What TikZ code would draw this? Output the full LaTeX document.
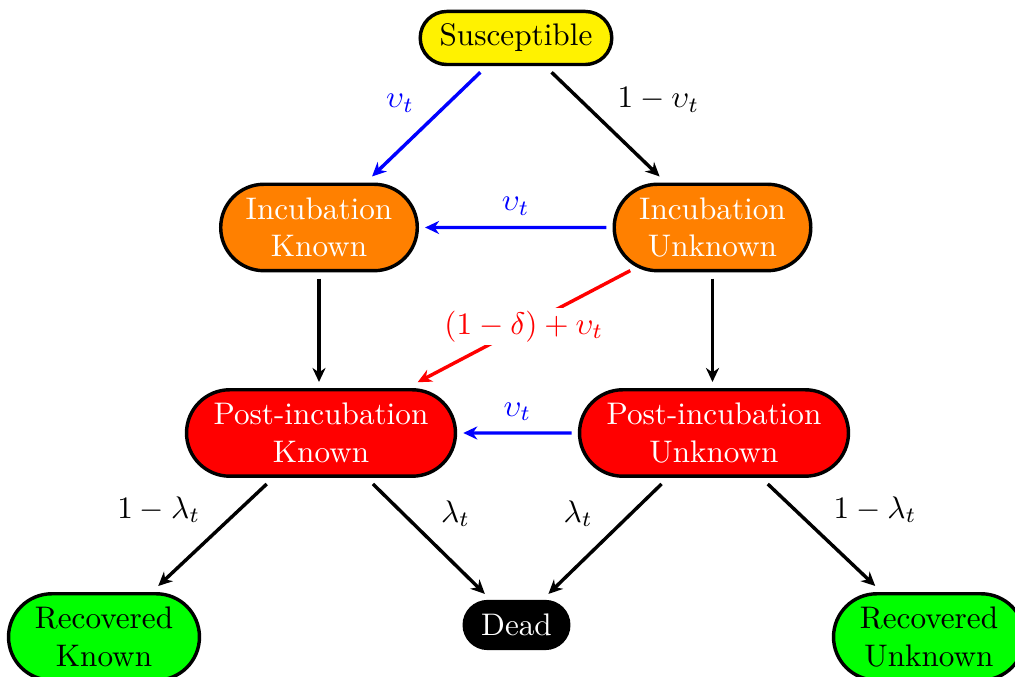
\documentclass[tikz,border=0pt]{standalone}
\usetikzlibrary{arrows.meta,shapes.misc}
\begin{document}
\begin{tikzpicture}[x=0.3205pt,y=-0.3205pt,
  base/.style={rounded rectangle, draw=black, line width=1.1pt, align=center, inner xsep=1pt, inner ysep=1pt, outer sep=2.5pt},
  susc/.style={base, fill=yellow, minimum width=63.4pt, minimum height=17pt},
  inc/.style={base, fill=orange, text=white, minimum width=65pt, minimum height=27.7pt},
  post/.style={base, fill=red, text=white, minimum width=88.2pt, minimum height=27.7pt},
  rec/.style={base, fill=green, minimum width=63.2pt, minimum height=27.7pt},
  deadst/.style={base, fill=black, text=white, minimum width=35.5pt, minimum height=15pt},
  arr/.style={-{Stealth[length=4.5pt,width=4.2pt]}, line width=1.1pt}]
\useasboundingbox (0,0) rectangle (1015,677);
\node[susc] (S) at (516,38) {Susceptible};
\node[inc] (IK) at (319,227.5) {Incubation\\Known};
\node[inc] (IU) at (712.5,227.5) {Incubation\\Unknown};
\node[post] (PK) at (321,433) {Post-incubation\\Known};
\node[post] (PU) at (714,433) {Post-incubation\\Unknown};
\node[rec] (RK) at (104,637) {Recovered\\Known};
\node[deadst] (D) at (516.5,625) {Dead};
\node[rec] (RU) at (929,637) {Recovered\\Unknown};

\draw[arr, blue] (S) -- node[above left] {$\upsilon_t$} (IK);
\draw[arr] (S) -- node[above right] {$1-\upsilon_t$} (IU);
\draw[arr, blue] (IU) -- node[above] {$\upsilon_t$} (IK);
\draw[arr] (IK.south) -- (IK.south |- PK.north);
\draw[arr] (IU.south) -- (IU.south |- PU.north);
\draw[arr, red] (IU) -- node[fill=white, inner sep=0.8pt] {$(1-\delta)+\upsilon_t$} (PK);
\draw[arr, blue] (PU) -- node[above] {$\upsilon_t$} (PK);
\draw[arr] (PK) -- node[above left] {$1-\lambda_t$} (RK);
\draw[arr] (PK) -- node[above right] {$\lambda_t$} (D);
\draw[arr] (PU) -- node[above left] {$\lambda_t$} (D);
\draw[arr] (PU) -- node[above right] {$1-\lambda_t$} (RU);
\end{tikzpicture}
\end{document}
